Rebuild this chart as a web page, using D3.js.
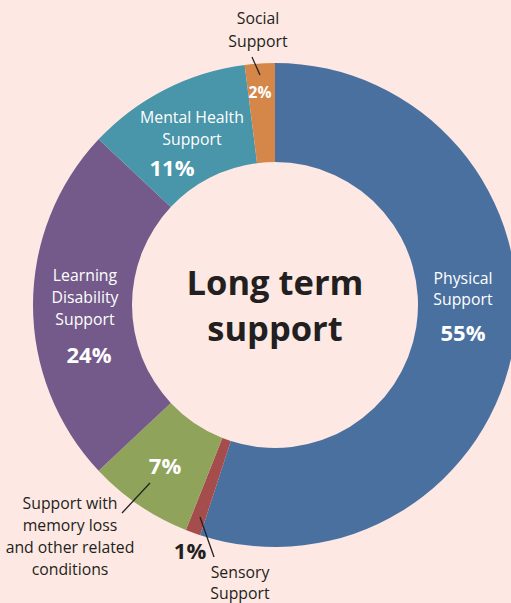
<!DOCTYPE html>
<html><head><meta charset="utf-8">
<script src="https://cdn.jsdelivr.net/npm/d3@7"></script>
<style>html,body{margin:0;padding:0;background:#fde8e3;}svg{display:block;}</style>
</head><body>
<svg id="chart" width="511" height="603"></svg>
<script>
const categories = ["Physical Support","Sensory Support","Support with memory loss and other related conditions","Learning Disability Support","Mental Health Support","Social Support"];
const values = [55, 1, 7, 24, 11, 2];
const colors = ["#4a70a0","#a54c4c","#8fa35b","#735a8a","#4995aa","#d5874a"];

const svg = d3.select("#chart");
const cx = 275, cy = 305, rOuter = 242, rInner = 143;
const font = "'Open Sans', 'Noto Sans', sans-serif";

const pie = d3.pie().sort(null).value(d => d)(values);
const arc = d3.arc().innerRadius(rInner).outerRadius(rOuter);
const g = svg.append("g").attr("transform", `translate(${cx},${cy})`);
g.selectAll("path").data(pie).join("path")
  .attr("d", arc).attr("fill", (d,i) => colors[i]);

function lines(x, y0, dy, arr, opts) {
  arr.forEach((t, k) => {
    svg.append("text").attr("x", x).attr("y", y0 + k*dy)
      .attr("text-anchor", "middle").attr("dominant-baseline", "central")
      .attr("font-family", font).attr("font-size", opts.size)
      .attr("font-weight", opts.weight || 400).attr("fill", opts.fill).text(t);
  });
}
function leader(x1,y1,x2,y2){
  svg.append("line").attr("x1",x1).attr("y1",y1).attr("x2",x2).attr("y2",y2)
    .attr("stroke","#222").attr("stroke-width",1.3);
}
const pct = v => v + "%";
const dark = "#231f20", white = "#ffffff";
const LS = 15.8, PS = 22;

// Physical
lines(463, 278, 21, ["Physical","Support"], {size:LS, fill:white});
lines(463, 332, 0, [pct(values[0])], {size:PS, weight:700, fill:white});
// Learning
lines(85, 275, 22, ["Learning","Disability","Support"], {size:LS, fill:white});
lines(89, 354, 0, [pct(values[3])], {size:PS, weight:700, fill:white});
// Mental
lines(192, 117, 22, ["Mental Health","Support"], {size:LS, fill:white});
lines(172, 167, 0, [pct(values[4])], {size:PS, weight:700, fill:white});
// Social
lines(258, 18, 23, ["Social","Support"], {size:LS, fill:dark});
leader(252,57,260,75);
lines(260, 92, 0, [pct(values[5])], {size:15.5, weight:700, fill:white});
// Memory
lines(165, 465, 0, [pct(values[2])], {size:PS, weight:700, fill:white});
leader(150,483,122,513);
lines(70, 503, 22, ["Support with","memory loss","and other related","conditions"], {size:LS, fill:dark});
// Sensory
lines(190, 550, 0, [pct(values[1])], {size:PS, weight:700, fill:dark});
leader(200,517,214,557);
lines(240, 572, 21, ["Sensory","Support"], {size:LS, fill:dark});

// Center
lines(275, 281, 46, ["Long term","support"], {size:34.5, weight:700, fill:dark});
</script>
</body></html>
